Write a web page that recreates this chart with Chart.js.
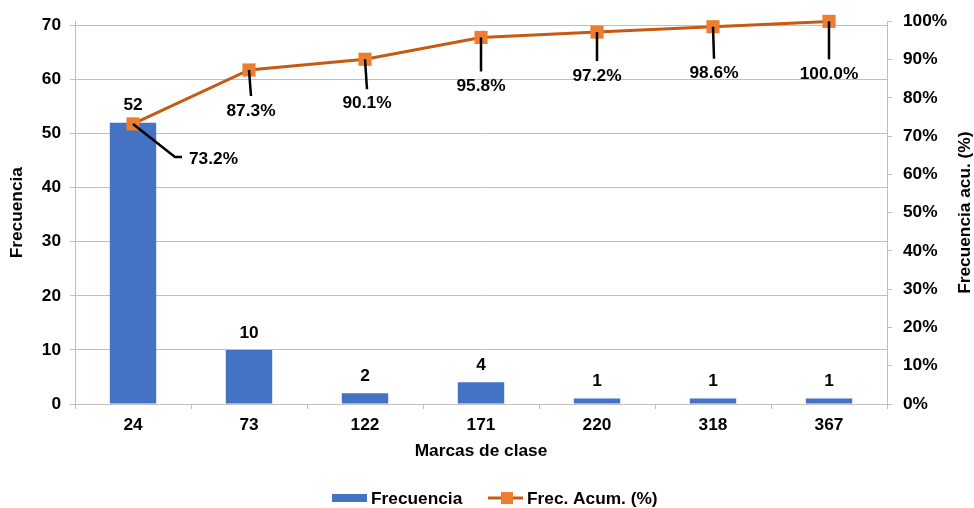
<!DOCTYPE html>
<html><head><meta charset="utf-8">
<script src="https://cdn.jsdelivr.net/npm/chart.js@4/dist/chart.umd.min.js"></script>
<style>html,body{margin:0;padding:0;background:#fff;overflow:hidden}</style>
</head><body>
<canvas id="c" width="974" height="508"></canvas>
<script>
// ---- data ----
const categories = ['24', '73', '122', '171', '220', '318', '367'];
const frecuencia = [52, 10, 2, 4, 1, 1, 1];
const frecAcum = [73.2, 87.3, 90.1, 95.8, 97.2, 98.6, 100.0];
const leftTicks = [0, 10, 20, 30, 40, 50, 60, 70];
const rightTicks = [0, 10, 20, 30, 40, 50, 60, 70, 80, 90, 100];
const seriesNames = ['Frecuencia', 'Frec. Acum. (%)'];
const xTitle = 'Marcas de clase';
const yTitle = 'Frecuencia';
const y1Title = 'Frecuencia acu. (%)';

// ---- styling ----
const FONT = '"Liberation Sans", Arial, sans-serif';
const FS = 17.3;
const BLUE = '#4472C4', LINE = '#C55A11', MARK = '#ED7D31', GRID = '#bfbfbf';
// label placement relative to each point (style only)
const pctLabelLayout = [
  {elbow: true, dx1: 42, dy1: 33, dx2: 49, tx: 56, ty: 35},
  {dx: 2, ly: 26, ty: 41},
  {dx: 2, ly: 30, ty: 44},
  {dx: 0, ly: 34, ty: 49},
  {dx: 0, ly: 29, ty: 44},
  {dx: 1, ly: 32, ty: 47},
  {dx: 0, ly: 38, ty: 53}
];

const labelsPlugin = {
  id: 'labels',
  afterDatasetsDraw(chart) {
    const ctx = chart.ctx;
    ctx.save();
    ctx.font = 'bold ' + FS + 'px ' + FONT;
    ctx.fillStyle = '#000';
    ctx.textAlign = 'center';
    ctx.textBaseline = 'middle';
    // bar values
    chart.getDatasetMeta(0).data.forEach((bar, i) => {
      ctx.fillText(String(frecuencia[i]), bar.x, bar.y - 17);
    });
    // percentage labels with leader lines
    ctx.strokeStyle = '#000';
    ctx.lineWidth = 2.5;
    chart.getDatasetMeta(1).data.forEach((pt, i) => {
      const L = pctLabelLayout[i];
      const txt = frecAcum[i].toFixed(1) + '%';
      ctx.beginPath();
      if (L.elbow) {
        ctx.moveTo(pt.x, pt.y);
        ctx.lineTo(pt.x + L.dx1, pt.y + L.dy1);
        ctx.lineTo(pt.x + L.dx2, pt.y + L.dy1);
        ctx.stroke();
        ctx.textAlign = 'left';
        ctx.fillText(txt, pt.x + L.tx, pt.y + L.ty);
      } else {
        ctx.moveTo(pt.x, pt.y);
        ctx.lineTo(pt.x + L.dx, pt.y + L.ly);
        ctx.stroke();
        ctx.textAlign = 'center';
        ctx.fillText(txt, pt.x + L.dx, pt.y + L.ty);
      }
    });
    ctx.restore();
  },
  afterDraw(chart) {
    const ctx = chart.ctx;
    const area = chart.chartArea;
    ctx.save();
    ctx.font = 'bold ' + FS + 'px ' + FONT;
    ctx.textBaseline = 'middle';
    ctx.fillStyle = '#000';
    // right axis title, reading bottom-to-top
    ctx.save();
    ctx.translate(965, (area.top + area.bottom) / 2);
    ctx.rotate(-Math.PI / 2);
    ctx.textAlign = 'center';
    ctx.fillText(y1Title, 0, 0);
    ctx.restore();
    // legend
    ctx.textAlign = 'left';
    const y = 498;
    ctx.fillStyle = BLUE;
    ctx.fillRect(332, y - 4, 35, 8);
    ctx.fillStyle = '#000';
    ctx.fillText(seriesNames[0], 371, y + 1);
    ctx.strokeStyle = LINE;
    ctx.lineWidth = 3;
    ctx.beginPath(); ctx.moveTo(488, y); ctx.lineTo(523, y); ctx.stroke();
    ctx.fillStyle = MARK;
    ctx.fillRect(507 - 6, y - 6, 12, 12);
    ctx.fillStyle = '#000';
    ctx.fillText(seriesNames[1], 527, y + 1);
    ctx.restore();
  }
};

new Chart(document.getElementById('c'), {
  data: {
    labels: categories,
    datasets: [
      {
        type: 'bar', label: seriesNames[0], data: frecuencia, yAxisID: 'y',
        backgroundColor: BLUE, borderWidth: 0,
        categoryPercentage: 1.0, barPercentage: 0.4, order: 2
      },
      {
        type: 'line', label: seriesNames[1], data: frecAcum, yAxisID: 'y1',
        borderColor: LINE, borderWidth: 3, backgroundColor: MARK,
        pointStyle: 'rect', pointRadius: 9.3, pointBackgroundColor: MARK,
        pointBorderColor: MARK, pointBorderWidth: 0, tension: 0, order: 1,
        clip: false
      }
    ]
  },
  options: {
    responsive: false,
    animation: false,
    events: [],
    layout: {padding: {left: 0, right: 0, top: 19, bottom: 46}},
    plugins: {legend: {display: false}, tooltip: {enabled: false}},
    scales: {
      x: {
        offset: true,
        grid: {display: true, offset: true, drawOnChartArea: false, drawTicks: true, tickLength: 5, color: GRID},
        border: {display: true, color: GRID},
        ticks: {color: '#000', font: {family: FONT, size: FS, weight: 'bold'}, padding: 6, maxRotation: 0},
        title: {display: true, text: xTitle, color: '#000', font: {family: FONT, size: FS, weight: 'bold'}, padding: {top: 0, bottom: 0}},
        afterFit(s) { s.height = 58; }
      },
      y: {
        position: 'left', min: 0, max: 70 * 385 / 381,
        afterBuildTicks(s) { s.ticks = leftTicks.map(v => ({value: v})); },
        grid: {color: GRID, tickLength: 5, drawTicks: true},
        border: {display: true, color: GRID},
        ticks: {color: '#000', font: {family: FONT, size: FS, weight: 'bold'}, padding: 9},
        title: {display: true, text: yTitle, color: '#000', font: {family: FONT, size: FS, weight: 'bold'}, padding: {top: 7, bottom: 0}},
        afterFit(s) { s.width = 75; }
      },
      y1: {
        position: 'right', min: 0, max: 100,
        afterBuildTicks(s) { s.ticks = rightTicks.map(v => ({value: v})); },
        grid: {drawOnChartArea: false, color: GRID, tickLength: 5, drawTicks: true},
        border: {display: true, color: GRID},
        ticks: {color: '#000', font: {family: FONT, size: FS, weight: 'bold'}, padding: 11, callback: v => v + '%'},
        title: {display: false},
        afterFit(s) { s.width = 87; }
      }
    }
  },
  plugins: [labelsPlugin]
});
</script>
</body></html>
